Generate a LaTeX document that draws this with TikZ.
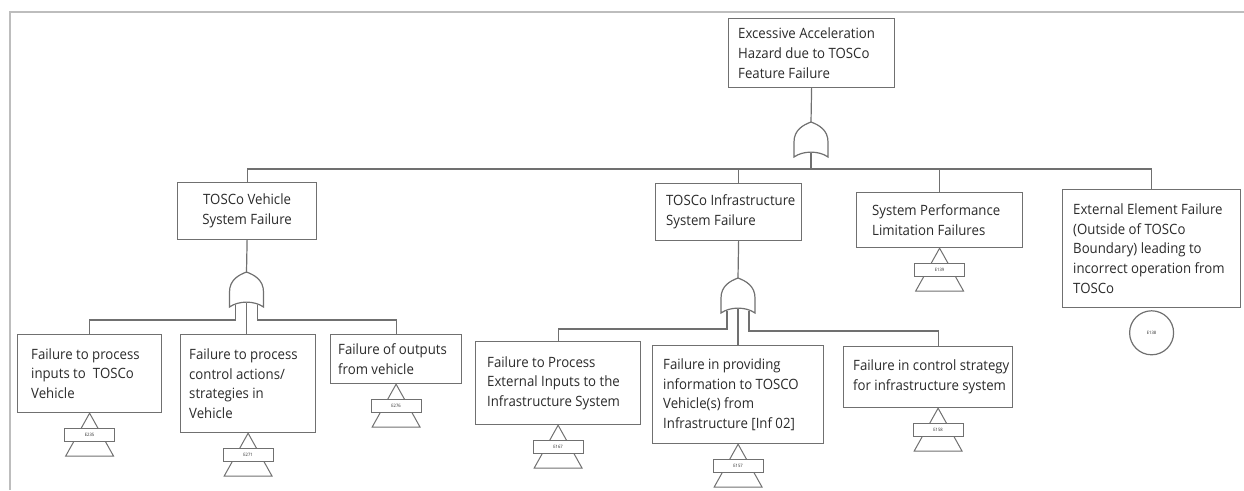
\documentclass[tikz,border=0pt]{standalone}
\usepackage{fontspec}
\setmainfont{Open Sans}[FakeStretch=0.93]
\definecolor{ink}{HTML}{2A2A2A}
\definecolor{edge}{HTML}{707070}
\definecolor{rule}{HTML}{BDBDBD}

\tikzset{
  box/.style={draw=edge, line width=1.2pt, anchor=north west, inner sep=0pt},
  boxtext/.style={anchor=west, align=left, inner sep=0pt, text=ink,
    font=\fontsize{14.2}{19.7}\selectfont},
  wire/.style={draw=edge, line width=1.2pt},
  tagfont/.style={font=\fontsize{4.5}{5}\selectfont, text=ink},
  % OR gate, origin at its apex; -l, -m, -r are the input stubs below it
  orgate/.pic={
    \draw[wire] (-17,35) -- (-17,20) .. controls (-17,8) and (-8,3) .. (0,0)
      .. controls (8,3) and (17,8) .. (17,20) -- (17,35)
      .. controls (8,28.5) and (-8,28.5) .. cycle;
    \coordinate (-out) at (0,0);
    \coordinate (-l) at (-11,32.5);
    \coordinate (-m) at (0,30.5);
    \coordinate (-r) at (11,32.5);
  },
  % transfer triangle with its reference tag
  xfer/.pic={
    \draw[wire, line width=1pt] (0,0) -- (24,43) -- (-24,43) -- cycle;
    \node[draw=edge, fill=white, line width=1pt, minimum width=50pt,
      minimum height=13pt, inner sep=0pt, tagfont] (-tag) at (0,21.5) {#1};
  }
}

% \ftbox{name}{x1}{y1}{x2}{y2}{left pad}{text}: a box with left-aligned text
\newcommand\ftbox[7]{%
  \pgfmathsetmacro\ftw{#4-#2}%
  \pgfmathsetmacro\fth{#5-#3}%
  \node[box, minimum width=\ftw pt, minimum height=\fth pt,
    label={[boxtext, xshift=#6pt]west:{#7}}] (#1) at (#2,#3) {};%
}

\begin{document}
\begin{tikzpicture}[x=1pt, y=-1pt]
\useasboundingbox (0,0) rectangle (1244,490);

% page rules
\draw[rule, line width=2pt] (10,490) -- (10,12) -- (1244,12);

% top event
\ftbox{top}{728}{18}{894}{87}{10}{Excessive Acceleration\\Hazard due to TOSCo\\Feature Failure}
\pic (g0) at (811,122) {orgate};
\draw[wire] (top.south) -- (g0-out);

% second level
\node[box, minimum width=139pt, minimum height=57pt,
  label={[boxtext, anchor=center, align=center]center:{TOSCo Vehicle\\System Failure}}]
  (veh) at (177,182) {};
\ftbox{inf}{655}{183}{801}{240}{11}{TOSCo Infrastructure\\System Failure}
\ftbox{perf}{856}{192}{1022}{247}{16}{System Performance\\Limitation Failures}
\ftbox{ext}{1062}{189}{1240}{307}{11}{External Element Failure\\(Outside of TOSCo\\Boundary) leading to\\incorrect operation from\\TOSCo}

\coordinate (bus) at (0,169);
\draw[wire] (g0-m) -- (g0-m |- bus);
\draw[wire] (veh.north) |- (bus -| ext.north) -- (ext.north);
\draw[wire] ([xshift=10pt]inf.north) -- ([xshift=10pt]inf.north |- bus);
\draw[wire] (perf.north) -- (perf.north |- bus);

\pic (t7) at (perf.south) {xfer=E139};
\node[draw=edge, line width=1.2pt, circle, minimum size=44pt, inner sep=0pt, tagfont,
  anchor=north] (e138) at ([yshift=-2pt]ext.south) {E138};

% vehicle branch
\pic (g1) at (246.5,272) {orgate};
\draw[wire] (veh.south) -- (g1-out);
\ftbox{b1}{17}{334}{161}{412}{14}{Failure to process\\inputs to\enspace TOSCo\\Vehicle}
\ftbox{b2}{180}{334}{315}{432}{9}{Failure to process\\control actions/\\strategies in\\Vehicle}
\ftbox{b3}{330}{334}{461}{383}{8}{Failure of outputs\\from vehicle}
\draw[wire] (g1-l) |- ([yshift=14pt]b1.north) -- (b1.north);
\draw[wire] (g1-m) -- (g1-m |- b2.north);
\draw[wire] (g1-r) |- ([yshift=14pt]b3.north) -- (b3.north);
\pic (t1) at (b1.south) {xfer=E235};
\pic (t2) at (b2.south) {xfer=E271};
\pic (t3) at (b3.south) {xfer=E276};

% infrastructure branch
\pic (g2) at (738,278) {orgate};
\draw[wire] ([xshift=10pt]inf.south) -- (g2-out);
\ftbox{c1}{475}{341}{640}{424}{12}{Failure to Process\\External Inputs to the\\Infrastructure System}
\ftbox{c2}{652}{345}{823}{443}{11}{Failure in providing\\information to TOSCO\\Vehicle(s) from\\Infrastructure [Inf 02]}
\ftbox{c3}{843}{346}{1012}{407}{10}{Failure in control strategy\\for infrastructure system}
\draw[wire] (g2-l) |- ([yshift=12pt]c1.north) -- (c1.north);
\draw[wire] (g2-m) -- (g2-m |- c2.north);
\draw[wire] (g2-r) |- ([xshift=10pt,yshift=15pt]c3.north) -- ([xshift=10pt]c3.north);
\pic (t4) at (c1.south) {xfer=E167};
\pic (t5) at (c2.south) {xfer=E157};
\pic (t6) at ([xshift=10pt]c3.south) {xfer=E158};
\end{tikzpicture}
\end{document}
